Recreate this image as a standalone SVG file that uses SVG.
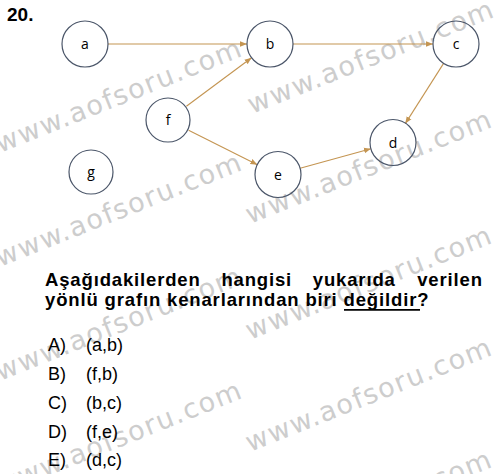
<svg xmlns="http://www.w3.org/2000/svg" width="500" height="474" viewBox="0 0 500 474">
<defs>
<style>
.wm{font-family:"DejaVu Sans","Open Sans",sans-serif;font-size:27px;fill:#cdcdcd}
.node circle{fill:none;stroke:#4b5669;stroke-width:1.2}
.node text{font-family:"Open Sans","Liberation Sans",sans-serif;font-size:14px;fill:#000;text-anchor:middle}
.edge{stroke:#c49552;stroke-width:1.1;fill:none;marker-end:url(#ah)}
.q{font-family:"Liberation Sans",Arial,sans-serif;font-weight:bold;font-size:18.5px;letter-spacing:0.85px;fill:#000}
.opt{font-family:"Liberation Sans",Arial,sans-serif;font-size:18px;fill:#000}
</style>
<marker id="ah" viewBox="0 0 10 10" refX="10" refY="5" markerWidth="7" markerHeight="7" markerUnits="userSpaceOnUse" orient="auto">
<path d="M0,1 L10,5 L0,9 Z" fill="#c49552"/>
</marker>
</defs>
<rect width="500" height="474" fill="#fff"/>
<g id="watermarks">
<text class="wm" x="0" y="153" transform="rotate(-21.8 0 153)" textLength="262" lengthAdjust="spacing">www.aofsoru.com</text>
<text class="wm" x="0" y="267" transform="rotate(-21.8 0 267)" textLength="262" lengthAdjust="spacing">www.aofsoru.com</text>
<text class="wm" x="0" y="381" transform="rotate(-21.8 0 381)" textLength="262" lengthAdjust="spacing">www.aofsoru.com</text>
<text class="wm" x="0" y="495" transform="rotate(-21.8 0 495)" textLength="262" lengthAdjust="spacing">www.aofsoru.com</text>
<text class="wm" x="252" y="114" transform="rotate(-21.8 252 114)" textLength="262" lengthAdjust="spacing">www.aofsoru.com</text>
<text class="wm" x="250" y="224" transform="rotate(-21.8 250 224)" textLength="262" lengthAdjust="spacing">www.aofsoru.com</text>
<text class="wm" x="250" y="340" transform="rotate(-21.8 250 340)" textLength="262" lengthAdjust="spacing">www.aofsoru.com</text>
<text class="wm" x="250" y="452" transform="rotate(-21.8 250 452)" textLength="262" lengthAdjust="spacing">www.aofsoru.com</text>
<text class="wm" x="250" y="564" transform="rotate(-21.8 250 564)" textLength="262" lengthAdjust="spacing">www.aofsoru.com</text>
</g>
<text x="7" y="21" font-family="Liberation Sans,Arial,sans-serif" font-weight="bold" font-size="19">20.</text>
<g id="connectors">
<line class="edge" x1="108" y1="44" x2="247" y2="44"/>
<line class="edge" x1="293" y1="44" x2="433" y2="44"/>
<line class="edge" x1="443.6" y1="63.4" x2="405.3" y2="123.6"/>
<line class="edge" x1="186.4" y1="106.3" x2="251.6" y2="57.7"/>
<line class="edge" x1="188.6" y1="130.3" x2="257.4" y2="164.7"/>
<line class="edge" x1="300.1" y1="168.3" x2="370.9" y2="148.7"/>
</g>
<g id="node-a" class="node"><circle cx="85" cy="44" r="23"/><text x="85" y="49">a</text></g>
<g id="node-b" class="node"><circle cx="270" cy="44" r="23"/><text x="270" y="49">b</text></g>
<g id="node-c" class="node"><circle cx="456" cy="44" r="23"/><text x="456" y="49">c</text></g>
<g id="node-d" class="node"><circle cx="393" cy="142.5" r="23"/><text x="393" y="147.5">d</text></g>
<g id="node-e" class="node"><circle cx="278" cy="174.5" r="23"/><text x="278" y="179.5">e</text></g>
<g id="node-f" class="node"><circle cx="168" cy="120" r="22"/><text x="168" y="125">f</text></g>
<g id="node-g" class="node"><circle cx="91" cy="172" r="22"/><text x="91" y="177">g</text></g>
<g id="question">
<text class="q" x="45" y="286">Aşağıdakilerden</text>
<text class="q" x="221.4" y="286">hangisi</text>
<text class="q" x="312.8" y="286">yukarıda</text>
<text class="q" x="482.8" y="286" text-anchor="end">verilen</text>
<text class="q" x="45" y="306">yönlü grafın kenarlarından biri değildir?</text>
<line x1="344" y1="309.8" x2="420" y2="309.8" stroke="#000" stroke-width="1.7"/>
</g>
<g id="options" class="opt">
<text x="48" y="351">A)</text><text x="86" y="351">(a,b)</text>
<text x="48" y="380">B)</text><text x="86" y="380">(f,b)</text>
<text x="48" y="409">C)</text><text x="86" y="409">(b,c)</text>
<text x="48" y="437.5">D)</text><text x="86" y="437.5">(f,e)</text>
<text x="48" y="466">E)</text><text x="86" y="466">(d,c)</text>
</g>
</svg>
